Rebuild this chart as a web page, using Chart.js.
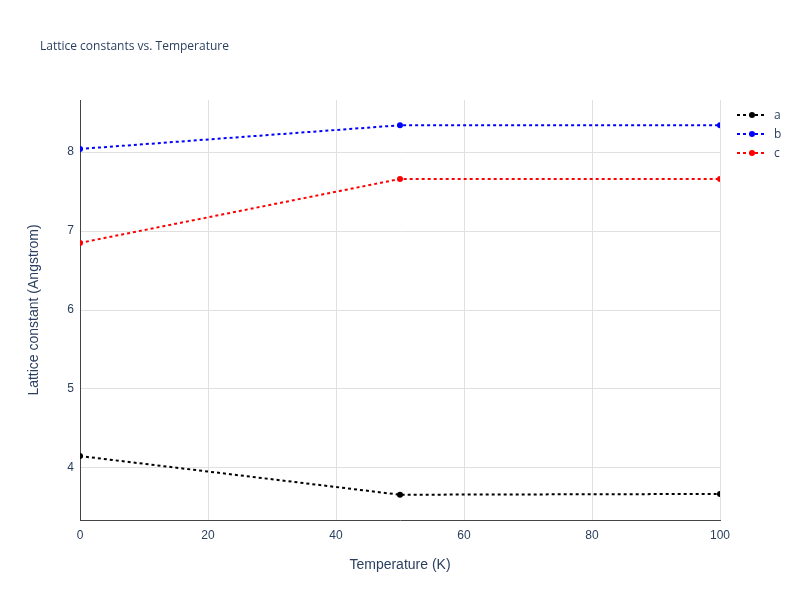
<!DOCTYPE html>
<html><head><meta charset="utf-8">
<script src="https://cdn.jsdelivr.net/npm/chart.js@4"></script>
<style>
body{margin:0;background:#fff;font-family:"Open Sans",sans-serif}
#wrap{position:relative;width:800px;height:600px}
#title{position:absolute;left:40px;top:37px;font-size:12px;color:#2a3f5f}
#legend{position:absolute;left:736px;top:105px;font-size:12px;color:#2a3f5f}
.li{height:19px;display:flex;align-items:center}
</style></head><body>
<div id="wrap"><canvas id="c" width="800" height="600"></canvas>
<div id="title">Lattice constants vs. Temperature</div>
<div id="legend"></div></div>
<script>
const temps=[0,50,100];
const aVals=[4.15,3.66,3.67];
const bVals=[8.04,8.34,8.34];
const cVals=[6.85,7.66,7.66];
const names=['a','b','c'];
const colors=['black','blue','red'];
const series=[aVals,bVals,cVals];
const lg=document.getElementById('legend');
names.forEach((n,i)=>{lg.innerHTML+=`<div class="li"><svg width="32" height="10"><line x1="1" y1="5" x2="31" y2="5" stroke="${colors[i]}" stroke-width="2" stroke-dasharray="3,3"/><circle cx="16" cy="5" r="3" fill="${colors[i]}"/></svg><span style="margin-left:6px">${n}</span></div>`;});
new Chart(document.getElementById('c'),{type:'line',
data:{datasets:series.map((s,i)=>({label:names[i],data:temps.map((t,j)=>({x:t,y:s[j]})),borderColor:colors[i],backgroundColor:colors[i],borderWidth:2,borderDash:[3,3],pointRadius:3,pointBorderWidth:0}))},
options:{responsive:false,animation:false,layout:{padding:{top:100,right:80}},
plugins:{legend:{display:false},tooltip:{enabled:false}},
scales:{
x:{type:'linear',min:0,max:100,ticks:{stepSize:20,padding:8,color:'#2a3f5f',font:{size:12}},grid:{color:'#e0e0e0',drawTicks:false},border:{color:'#444'},title:{display:true,text:'Temperature (K)',color:'#2a3f5f',font:{size:14},padding:{top:0,bottom:26}},afterFit:s=>{s.height=80}},
y:{min:3.34,max:8.66,ticks:{stepSize:1,padding:6,color:'#2a3f5f',font:{size:12},callback:v=>Number.isInteger(v)?v:''},afterBuildTicks:s=>{s.ticks=[4,5,6,7,8].map(v=>({value:v}))},grid:{color:'#e0e0e0',drawTicks:false},border:{color:'#444'},title:{display:true,text:'Lattice constant (Angstrom)',color:'#2a3f5f',font:{size:14},padding:{top:26,bottom:0}},afterFit:s=>{s.width=80}}
}}});
</script></body></html>
